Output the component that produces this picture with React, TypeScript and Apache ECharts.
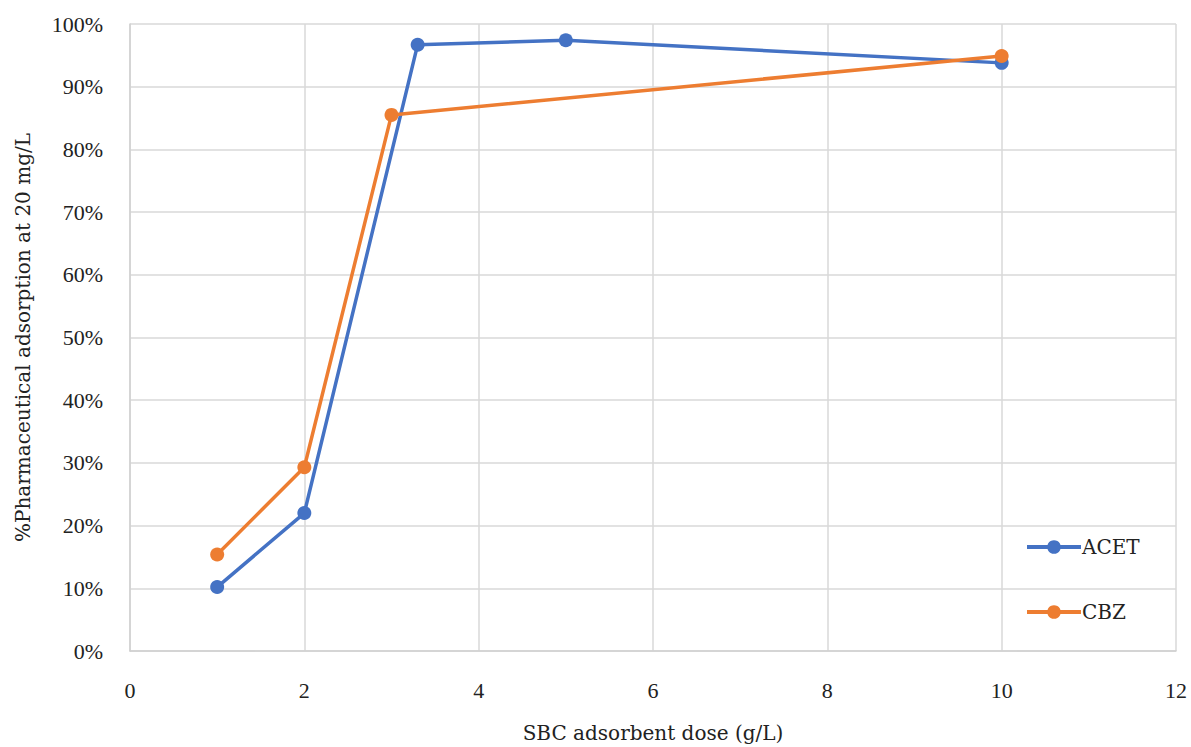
import React, { useEffect, useRef } from "react";
import * as echarts from "echarts";

const acetX = [1, 2, 3.3, 5, 10];
const acetY = [10.2, 22.0, 96.7, 97.4, 93.8];
const cbzX = [1, 2, 3, 10];
const cbzY = [15.4, 29.3, 85.5, 94.9];
const seriesNames = ["ACET", "CBZ"];
const colors = ["#4472C4", "#ED7D31"];
const xTitle = "SBC adsorbent dose (g/L)";
const yTitle = "%Pharmaceutical adsorption at 20 mg/L";

const FONT = "'Liberation Serif', serif";
const TFONT = "'DejaVu Serif', serif";

export default function App() {
  const ref = useRef<HTMLDivElement>(null);
  useEffect(() => {
    if (!ref.current) return;
    const chart = echarts.init(ref.current, undefined, { renderer: "svg" });
    const pair = (xs: number[], ys: number[]) => xs.map((x, i) => [x, ys[i]]);
    chart.setOption({
      animation: false,
      textStyle: { fontFamily: FONT },
      grid: {
        left: 130,
        top: 24,
        right: 15,
        bottom: 96,
        containLabel: false,
        outerBoundsMode: "none",
      },
      legend: {
        orient: "vertical",
        left: 1020,
        top: 532,
        itemWidth: 54,
        itemHeight: 17,
        itemGap: 45,
        lineStyle: { width: 4 },
        textStyle: { fontFamily: TFONT, fontSize: 20, color: "#222", padding: [0, 0, 0, -4] },
        data: seriesNames,
      },
      xAxis: {
        type: "value",
        min: 0,
        max: 12,
        interval: 2,
        name: xTitle,
        nameLocation: "middle",
        nameGap: 72,
        nameTextStyle: { fontFamily: TFONT, fontSize: 20, color: "#222" },
        axisLine: { show: true, lineStyle: { color: "#d0d0d0", width: 1.5 } },
        axisTick: { show: false },
        axisLabel: { fontFamily: FONT, fontSize: 22, color: "#222", margin: 28 },
        splitLine: { show: true, lineStyle: { color: "#d9d9d9", width: 1.5 } },
      },
      yAxis: {
        type: "value",
        min: 0,
        max: 100,
        interval: 10,
        name: yTitle,
        nameLocation: "middle",
        nameGap: 97,
        nameTextStyle: { fontFamily: TFONT, fontSize: 20, color: "#222" },
        axisLine: { show: true, lineStyle: { color: "#d0d0d0", width: 1.5 } },
        axisTick: { show: false },
        axisLabel: { fontFamily: FONT, fontSize: 22, color: "#222", margin: 27, formatter: "{value}%" },
        splitLine: { show: true, lineStyle: { color: "#d9d9d9", width: 1.5 } },
      },
      series: [
        {
          name: seriesNames[0],
          type: "line",
          data: pair(acetX, acetY),
          color: colors[0],
          symbol: "circle",
          symbolSize: 14,
          lineStyle: { width: 3.5 },
        },
        {
          name: seriesNames[1],
          type: "line",
          data: pair(cbzX, cbzY),
          color: colors[1],
          symbol: "circle",
          symbolSize: 14,
          lineStyle: { width: 3.5 },
        },
      ],
    });
    return () => chart.dispose();
  }, []);
  return (
    <div
      ref={ref}
      style={{ position: "fixed", left: 0, top: 0, width: 1191, height: 747, background: "#fff" }}
    />
  );
}
